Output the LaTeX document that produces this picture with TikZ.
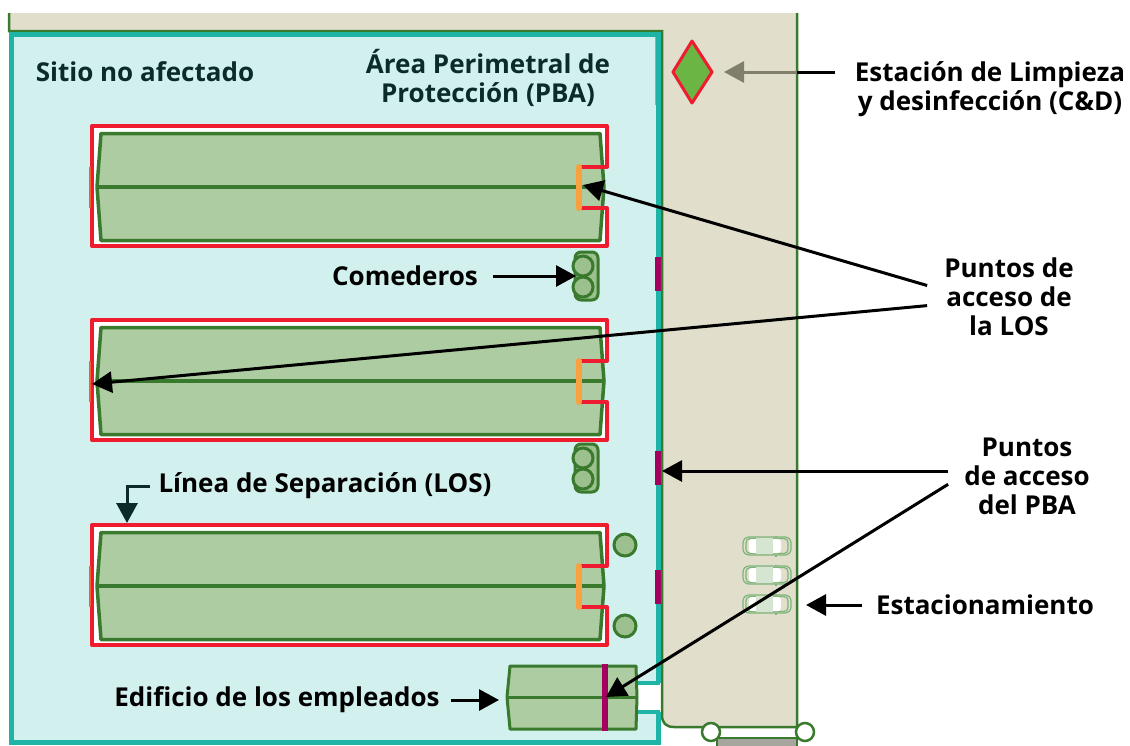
\documentclass[tikz,border=0pt]{standalone}
\usepackage{fontspec}
\setmainfont{Open Sans}
\usetikzlibrary{arrows.meta}
\definecolor{road}{HTML}{E1DECC}
\definecolor{site}{HTML}{D2F0EE}
\definecolor{teal1}{HTML}{1FB5A6}
\definecolor{barnfill}{HTML}{ADCCA2}
\definecolor{barnline}{HTML}{3A7A2E}
\definecolor{feedfill}{HTML}{9CC08E}
\definecolor{redline}{HTML}{EE1C2E}
\definecolor{orangeline}{HTML}{F9A040}
\definecolor{magentabar}{HTML}{A3005F}
\definecolor{darkteal}{HTML}{0B2B28}
\definecolor{grayarrow}{HTML}{80806A}
\definecolor{diamondfill}{HTML}{6BB544}
\definecolor{carline}{HTML}{7DB47A}
\tikzset{
	lbl/.style={align=center, font=\bfseries\fontsize{26}{29}\selectfont, inner sep=15pt},
	pointer/.style={line width=3pt, -{Triangle[length=20pt,width=21pt]}},
	barn/.style={draw=barnline, fill=barnfill, line width=3.5pt, line join=round},
	feeder/.style={draw=barnline, fill=feedfill, line width=3pt},
	gate/.style={fill=magentabar, draw=none},
}
\begin{document}
\begin{tikzpicture}[x=1pt, y=-1pt]
	\useasboundingbox (0,0) rectangle (1130,745);
	\fill[road] (9,13) -- (797,13) -- (797,727) -- (674,727) .. controls (666,727) and (662,723) .. (662,715) -- (662,31) -- (9,31) -- cycle;
	\draw[barnline, line width=2.5pt] (797,13) -- (797,727) -- (674,727) .. controls (666,727) and (662,723) .. (662,715) -- (662,31) -- (9,31) -- (9,13);
	\fill[site] (11,34) rectangle (658,742);
	\draw[teal1, line width=5pt] (658,683) -- (658,34) -- (11,34) -- (11,742) -- (658,742) -- (658,712);
	\fill[white] (637,684) rectangle (660,711);
	\draw[teal1, line width=4pt] (637,683) -- (660,683);
	\draw[teal1, line width=4pt] (637,712) -- (660,712);
	\draw[gray!70, line width=1pt] (655.5,37) -- (655.5,105);
	\foreach \dy in {0,194,399}
	{
		\begin{scope}[yshift=-\dy pt]
			\fill[white] (92,126) -- (607,126) -- (607,167) -- (579,167) -- (579,208) -- (607,208) -- (607,246) -- (92,246) -- cycle;
			\draw[barn] (101,133.5) -- (600,133.5) -- (604,187) -- (600,240.5) -- (101,240.5) -- (97,187) -- cycle;
			\draw[barnline, line width=3.5pt] (97,187) -- (604,187);
			\draw[redline, line width=4pt, line join=round] (579,167) -- (607,167) -- (607,126) -- (92,126) -- (92,246) -- (607,246) -- (607,208) -- (579,208);
			\draw[orangeline, line width=6pt, line cap=round] (579,167) -- (579,208);
			\draw[orangeline!50!redline, line width=1.5pt] (90,167) -- (90,208);
		\end{scope}
	}
	\foreach \y in {252,444}
	{
		\draw[feeder, rounded corners=6pt] (575,\y) rectangle (598,\y+48);
		\draw[feeder] (583,\y+14) circle [radius=10pt];
		\draw[feeder] (583,\y+35) circle [radius=10pt];
	}
	\draw[feeder] (625,545) circle [radius=11pt];
	\draw[feeder] (625,626) circle [radius=11pt];
	\foreach \y in {257,451,570}
	{
		\fill[gate] (655,\y) rectangle (661,\y+34);
	}
	\draw[barn, line width=3pt] (510,666) -- (636,666) -- (637,697) -- (636,729) -- (510,729) -- (507,697) -- cycle;
	\draw[barnline, line width=3pt] (507,697) -- (637,697);
	\fill[gate] (602,664) rectangle (608,731);
	\draw[barnline, line width=2.5pt, fill=gray!60!road] (717,746) -- (717,738) -- (797,738) -- (797,746);
	\draw[barnline, line width=2.5pt, fill=white] (711,732) circle [radius=9pt];
	\draw[barnline, line width=2.5pt, fill=white] (805,732) circle [radius=9pt];
	\foreach \y in {546,575,604}
	{
		\draw[carline, line width=1.2pt, rounded corners=6pt] (743,\y-9) rectangle (791,\y+9);
		\draw[carline, line width=1.2pt, rounded corners=4pt] (746,\y-7.5) rectangle (788,\y+7.5);
		\fill[white, rounded corners=3pt] (749,\y-7) rectangle (781,\y+7);
		\fill[barnfill!50!white] (756,\y-8) rectangle (773,\y+8);
		\fill[carline] (775,\y-10.5) rectangle (777,\y-9);
		\fill[carline] (775,\y+9) rectangle (777,\y+10.5);
	}
	\draw[redline, fill=diamondfill, line width=3pt, line join=round] (692,41) -- (712,72) -- (692,103) -- (673,72) -- cycle;

	\node[lbl, text=darkteal] (sitio) at (145,72) {Sitio no afectado};
	\node[lbl, text=darkteal] (pba) at (488,78) {Área Perimetral de\\Protección (PBA)};
	\node[lbl] (comederos) at (405,276) {Comederos};
	\node[lbl, inner sep=8pt] (linea) at (325,486) {Línea de Separación (LOS)};
	\node[lbl, inner sep=11pt] (edificio) at (277,700) {Edificio de los empleados};
	\node[lbl, inner sep=20pt] (limpieza) at (990,89) {Estación de Limpieza\\y desinfección (C\&D)};
	\node[lbl, inner sep=17pt] (puntosLos) at (1009,297) {Puntos de\\acceso de\\la LOS};
	\node[lbl, inner sep=16pt] (puntosPba) at (1027,476) {Puntos\\de acceso\\del PBA};
	\node[lbl, inner sep=14pt] (parking) at (985,605) {Estacionamiento};

	\coordinate (roadEdge) at (797,72);
	\coordinate (diamond) at (724,72);
	\coordinate (feedA) at (576,276);
	\coordinate (gateLosA) at (583,185);
	\coordinate (gateLosB) at (92,384);
	\coordinate (gatePba) at (662,471);
	\coordinate (gateStaff) at (606,697);
	\coordinate (barnTop) at (127,523);
	\coordinate (carEdge) at (806,605);
	\coordinate (staffWall) at (499,700);

	\draw[line width=3pt] (limpieza.west |- roadEdge) -- (roadEdge);
	\draw[pointer, grayarrow] (roadEdge) -- (diamond);
	\draw[pointer] (comederos.east) -- (feedA);
	\draw[pointer] (puntosLos.172) -- (gateLosA);
	\draw[pointer] (puntosLos.186) -- (gateLosB);
	\draw[pointer] (puntosPba.west |- gatePba) -- (gatePba);
	\draw[pointer] (puntosPba.186) -- (gateStaff);
	\draw[pointer, darkteal] (linea.west) -| (barnTop);
	\draw[pointer] (parking.west) -- (carEdge);
	\draw[pointer] (edificio.east) -- (staffWall);
\end{tikzpicture}
\end{document}
